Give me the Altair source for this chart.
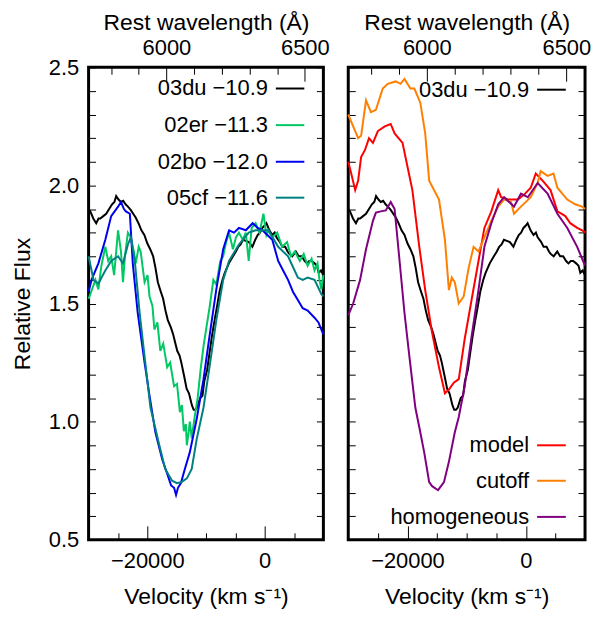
import altair as alt
import pandas as pd

# ---------------- data ----------------
V_DOMAIN = [-30000, 10000]
Y_DOMAIN = [0.5, 2.5]
LAM0 = 6355.0
C_KMS = 299792.458
W_DOMAIN = [LAM0 * (1 + V_DOMAIN[0] / C_KMS), LAM0 * (1 + V_DOMAIN[1] / C_KMS)]

Y_TICKS = [0.5, 0.6, 0.7, 0.8, 0.9, 1.0, 1.1, 1.2, 1.3, 1.4, 1.5, 1.6, 1.7, 1.8,
           1.9, 2.0, 2.1, 2.2, 2.3, 2.4, 2.5]
V_MAJOR = [-20000, 0]
V_MINOR = [-25000, -15000, -10000, -5000, 5000]
W_MAJOR = [6000, 6500]
W_MINOR = [5800, 5900, 6100, 6200, 6300, 6400]

# 03du -10.9 (black)
du_v = [-30000, -29700, -29200, -28700, -28300, -28000, -27500, -27000, -26500, -26000,
        -25600, -25300, -24900, -24500, -24100, -23700, -23300, -22800, -22400, -22000,
        -21500, -21000, -20500, -20000, -19500, -19000, -18600, -18200, -17700, -17300,
        -16900, -16500, -16000, -15600, -15200, -14900, -14500, -14200, -13700, -13300,
        -12900, -12700, -12400, -12100, -11800, -11500, -11000, -10600, -10300, -9800,
        -9400, -9000, -8600, -8100, -7700, -7200, -6800, -6100, -5400, -4900,
        -4500, -4100, -3700, -3200, -2700, -2400, -2100, -1600, -1200, -800,
        -400, 0, 300, 800, 1300, 1700, 2000, 2600, 3000, 3500,
        3900, 4200, 4700, 5300, 5800, 6300, 6800, 7200, 7600, 8000,
        8500, 8900, 9200, 9600, 10000]
du_f = [1.90, 1.89, 1.86, 1.84, 1.86, 1.86, 1.87, 1.88, 1.90, 1.92,
        1.93, 1.955, 1.94, 1.93, 1.935, 1.92, 1.91, 1.895, 1.88, 1.865,
        1.84, 1.81, 1.79, 1.755, 1.73, 1.70, 1.65, 1.59, 1.55, 1.52,
        1.47, 1.43, 1.40, 1.37, 1.33, 1.30, 1.28, 1.25, 1.19, 1.14,
        1.12, 1.10, 1.07, 1.05, 1.05, 1.06, 1.10, 1.11, 1.17, 1.22,
        1.29, 1.36, 1.42, 1.49, 1.55, 1.60, 1.63, 1.67, 1.70, 1.72,
        1.74, 1.75, 1.77, 1.765, 1.76, 1.75, 1.74, 1.77, 1.79, 1.80,
        1.82, 1.83, 1.84, 1.81, 1.79, 1.80, 1.78, 1.76, 1.74, 1.74,
        1.72, 1.71, 1.70, 1.72, 1.70, 1.70, 1.68, 1.67, 1.68, 1.68,
        1.67, 1.66, 1.63, 1.64, 1.62]

# 02er -11.3 (green, noisy)
er_v = [-30000, -28830, -28330, -27820, -27150, -26650, -26150, -25650, -24980, -24480,
        -24140, -23810, -23300, -22800, -22300, -21970, -21460, -21130, -20460, -19960,
        -19620, -19120, -18790, -18280, -17780, -17280, -16610, -16110, -15440, -14940,
        -14440, -14100, -13770, -13430, -13260, -12930, -12760, -12430, -11930, -11420,
        -10920, -10420, -9920, -9410, -8740, -8240, -7570, -7070, -6570, -6070,
        -5400, -4900, -4390, -3720, -3220, -2720, -2220, -1550, -880, -210,
        290, 630, 1300, 2130, 2970, 3810, 4480, 5150, 5980, 6650,
        7320, 7990, 8490, 9000, 9330, 9660, 10000]
er_f = [1.52, 1.60, 1.56, 1.66, 1.74, 1.68, 1.70, 1.62, 1.81, 1.72,
        1.59, 1.70, 1.80, 1.78, 1.72, 1.67, 1.74, 1.72, 1.59, 1.62,
        1.53, 1.49, 1.39, 1.42, 1.30, 1.33, 1.23, 1.25, 1.15, 1.16,
        1.04, 1.07, 0.96, 0.99, 0.90, 0.96, 1.00, 0.93, 1.02, 1.10,
        1.22, 1.32, 1.40, 1.48, 1.60, 1.58, 1.68, 1.70, 1.76, 1.80,
        1.73, 1.78, 1.80, 1.77, 1.80, 1.68, 1.82, 1.84, 1.80, 1.88,
        1.79, 1.81, 1.78, 1.80, 1.74, 1.76, 1.70, 1.72, 1.68, 1.71,
        1.66, 1.69, 1.64, 1.67, 1.60, 1.56, 1.62]

# 02bo -12.0 (blue)
bo_v = [-30000, -29500, -28330, -27150, -26150, -24980, -24480, -23980, -23640, -22970,
        -22470, -21630, -20460, -19620, -18620, -17450, -16610, -15940, -15440, -15100,
        -14770, -14270, -13600, -12760, -11590, -10420, -9410, -8240, -7070, -6070,
        -5230, -4390, -3220, -2050, -1210, -380, 460, 1300, 2300, 3140,
        3980, 4810, 5650, 6480, 7320, 8490, 9160, 9660, 10000]
bo_f = [1.55, 1.60, 1.67, 1.77, 1.87, 1.91, 1.93, 1.90, 1.89, 1.88,
        1.67, 1.46, 1.25, 1.11, 0.955, 0.84, 0.78, 0.73, 0.72, 0.69,
        0.72, 0.74, 0.80, 0.87, 1.01, 1.18, 1.36, 1.56, 1.73, 1.81,
        1.80, 1.82, 1.81, 1.84, 1.82, 1.81, 1.79, 1.77, 1.68, 1.64,
        1.60, 1.55, 1.515, 1.48, 1.47, 1.44, 1.42, 1.39, 1.37]

# 05cf -11.6 (teal)
cf_v = [-30000, -29160, -28330, -27150, -26150, -24980, -24140, -23300, -22800, -22130,
        -21300, -20460, -19460, -17950, -16950, -15780, -14940, -14100, -13260, -12430,
        -11590, -10420, -9410, -8240, -7070, -6070, -4390, -2720, -1550, -380,
        630, 2300, 3980, 5650, 6480, 7320, 8490, 9660, 10000]
cf_f = [1.70, 1.60, 1.585, 1.64, 1.68, 1.70, 1.67, 1.75, 1.78, 1.68,
        1.46, 1.275, 1.06, 0.90, 0.80, 0.75, 0.74, 0.745, 0.76, 0.80,
        0.925, 1.06, 1.23, 1.43, 1.60, 1.68, 1.75, 1.80, 1.81, 1.81,
        1.81, 1.74, 1.70, 1.61, 1.60, 1.61, 1.60, 1.54, 1.53]

# model (red)
mo_v = [-30000, -29500, -28830, -28330, -27830, -27170, -26500, -25830, -25000, -23830,
        -22830, -22170, -21500, -20830, -20000, -19170, -18000, -17000, -15830, -14670,
        -13670, -13000, -12170, -11330, -10330, -9170, -8000, -7000, -5830, -4670,
        -4170, -3000, -1330, -330, 830, 1670, 2830, 4170, 5330, 6670,
        7500, 8670, 9500, 10000]
mo_f = [2.10, 2.05, 1.98, 2.02, 2.12, 2.15, 2.20, 2.18, 2.23, 2.25,
        2.26, 2.22, 2.20, 2.18, 2.08, 1.98, 1.74, 1.557, 1.376, 1.23,
        1.12, 1.136, 1.165, 1.18, 1.35, 1.515, 1.68, 1.82, 1.89, 1.98,
        1.95, 1.94, 1.94, 1.96, 1.99, 2.05, 2.02, 1.98, 1.89, 1.87,
        1.84, 1.82, 1.81, 1.80]

# cutoff (orange)
cu_v = [-30000, -29170, -28330, -27830, -27000, -26170, -25330, -24170, -23330, -22000,
        -21170, -20500, -19500, -18830, -17830, -17000, -16330, -14670, -13670, -13000,
        -12500, -12000, -11330, -10500, -9670, -8830, -8000, -7000, -5830, -4670,
        -3670, -2500, -2000, -830, 830, 2000, 2500, 3670, 4670, 5330,
        7000, 8330, 9500, 10000]
cu_f = [2.30, 2.25, 2.20, 2.21, 2.36, 2.31, 2.32, 2.41, 2.43, 2.44,
        2.43, 2.45, 2.41, 2.41, 2.35, 2.22, 2.02, 1.94, 1.77, 1.557,
        1.61, 1.59, 1.50, 1.53, 1.65, 1.74, 1.72, 1.78, 1.85, 1.91,
        1.94, 1.93, 1.88, 1.91, 1.95, 2.01, 2.06, 2.04, 2.05, 1.99,
        1.94, 1.92, 1.91, 1.90]

# homogeneous (purple)
ho_v = [-30000, -29170, -28000, -27000, -25830, -25330, -24500, -23670, -22830, -22170,
        -21330, -20500, -19670, -18670, -17830, -17170, -16330, -15830, -14830, -13830,
        -13000, -12000, -11330, -10330, -9170, -8000, -7000, -5830, -4670, -3670,
        -2000, -830, 330, 2000, 3670, 5330, 7000, 8670, 9670, 10000]
ho_f = [1.45, 1.50, 1.60, 1.73, 1.85, 1.885, 1.89, 1.894, 1.93, 1.90,
        1.68, 1.46, 1.275, 1.06, 0.955, 0.87, 0.744, 0.727, 0.71, 0.744,
        0.83, 0.955, 1.02, 1.15, 1.36, 1.557, 1.74, 1.84, 1.92, 1.95,
        1.91, 1.965, 1.95, 2.01, 1.965, 1.88, 1.82, 1.74, 1.68, 1.66]

LEFT_SERIES = ["03du", "02er", "02bo", "05cf"]
LEFT_COLORS = ["#000000", "#00c864", "#0000f0", "#008080"]
LEFT_LABELS = ["03du \u221210.9", "02er \u221211.3", "02bo \u221212.0", "05cf \u221211.6"]
LEFT_LEG_Y = [2.41, 2.255, 2.10, 1.948]

RIGHT_SERIES = ["03du", "model", "cutoff", "homogeneous"]
RIGHT_COLORS = ["#000000", "#ff0000", "#ff8000", "#800080"]
RIGHT_LABELS = ["03du \u221210.9", "model", "cutoff", "homogeneous"]
RIGHT_LEG_Y = [2.405, 0.90, 0.75, 0.597]

LEG_TEXT_X = 550
LEG_LINE_X = [1900, 6750]


def long_df(names, vs, fs):
    rows = []
    for n, v, f in zip(names, vs, fs):
        for a, b in zip(v, f):
            rows.append({"series": n, "v": a, "flux": b})
    return pd.DataFrame(rows)


left_df = long_df(LEFT_SERIES, [du_v, er_v, bo_v, cf_v], [du_f, er_f, bo_f, cf_f])
right_df = long_df(RIGHT_SERIES, [du_v, mo_v, cu_v, ho_v], [du_f, mo_f, cu_f, ho_f])

FONT = "Liberation Sans"
LBL_FS = 22
TTL_FS = 23
LEG_FS = 22
LABEL_EXPR = "abs(datum.value*2 - round(datum.value*2)) < 0.001 ? format(datum.value, '.1f') : ''"


def make_panel(df, series, colors, labels, leg_y, show_y, width):
    vscale = alt.Scale(domain=V_DOMAIN, nice=False, zero=False)
    yscale = alt.Scale(domain=Y_DOMAIN, nice=False, zero=False)
    wscale = alt.Scale(domain=W_DOMAIN, nice=False, zero=False)
    cscale = alt.Scale(domain=series, range=colors)

    x_bottom = alt.Axis(orient="bottom", offset=-14, tickSize=14, values=V_MAJOR,
                        format="d", title="Velocity (km s\u207b\u00b9)", labelPadding=11,
                        titlePadding=14, labelFlush=False, domain=False, grid=False)
    x_bottom_minor = alt.Axis(orient="bottom", offset=-7, tickSize=7, values=V_MINOR,
                              labels=False, title=None, domain=False, grid=False)
    x_top = alt.Axis(orient="top", offset=-14, tickSize=14, values=W_MAJOR, format="d",
                     title="Rest wavelength (\u00c5)", labelPadding=8, titlePadding=2,
                     labelFlush=False, domain=False, grid=False)
    x_top_minor = alt.Axis(orient="top", offset=-7, tickSize=7, values=W_MINOR,
                           labels=False, title=None, domain=False, grid=False)
    if show_y:
        y_left = alt.Axis(orient="left", offset=-7, tickSize=7, values=Y_TICKS,
                          labelExpr=LABEL_EXPR, labelPadding=10, labelFlush=False,
                          labelOverlap=False, title="Relative Flux", titlePadding=14,
                          domain=False, grid=False)
    else:
        y_left = alt.Axis(orient="left", offset=-7, tickSize=7, values=Y_TICKS,
                          labels=False, title=None, domain=False, grid=False)
    y_right = alt.Axis(orient="right", offset=-7, tickSize=7, values=Y_TICKS,
                       labels=False, title=None, domain=False, grid=False)

    lines = alt.Chart(df).mark_line(strokeWidth=2).encode(
        x=alt.X("v:Q", scale=vscale, axis=x_bottom),
        y=alt.Y("flux:Q", scale=yscale, axis=y_left),
        color=alt.Color("series:N", scale=cscale, legend=None),
    )

    anchor = pd.DataFrame({"v": [V_DOMAIN[0]], "flux": [Y_DOMAIN[0]],
                           "w": [W_DOMAIN[0]]})
    minor = alt.Chart(anchor).mark_point(opacity=0).encode(
        x=alt.X("v:Q", scale=vscale, axis=x_bottom_minor),
        y=alt.Y("flux:Q", scale=yscale, axis=y_right),
    )
    top_major = alt.Chart(anchor).mark_point(opacity=0).encode(
        x=alt.X("w:Q", scale=wscale, axis=x_top),
        y=alt.Y("flux:Q", scale=yscale, axis=None),
    )
    top_minor = alt.Chart(anchor).mark_point(opacity=0).encode(
        x=alt.X("w:Q", scale=wscale, axis=x_top_minor),
        y=alt.Y("flux:Q", scale=yscale, axis=None),
    )

    leg = pd.DataFrame({"series": series, "label": labels, "ly": leg_y,
                        "tx": [LEG_TEXT_X] * len(series),
                        "x1": [LEG_LINE_X[0]] * len(series),
                        "x2": [LEG_LINE_X[1]] * len(series)})
    leg_text = alt.Chart(leg).mark_text(align="right", baseline="middle", font=FONT,
                                        fontSize=LEG_FS, color="black").encode(
        x=alt.X("tx:Q", scale=vscale, axis=None),
        y=alt.Y("ly:Q", scale=yscale, axis=None),
        text="label:N",
    )
    leg_line = alt.Chart(leg).mark_rule(strokeWidth=2).encode(
        x=alt.X("x1:Q", scale=vscale, axis=None),
        x2="x2:Q",
        y=alt.Y("ly:Q", scale=yscale, axis=None),
        color=alt.Color("series:N", scale=cscale, legend=None),
    )

    return alt.layer(lines, minor, top_major, top_minor, leg_text, leg_line).resolve_scale(
        x="independent", color="shared"
    ).resolve_axis(x="independent", y="independent").properties(width=width, height=475)


left = make_panel(left_df, LEFT_SERIES, LEFT_COLORS, LEFT_LABELS, LEFT_LEG_Y, True, 236)
right = make_panel(right_df, RIGHT_SERIES, RIGHT_COLORS, RIGHT_LABELS, RIGHT_LEG_Y, False, 238)

chart = alt.hconcat(left, right, spacing=25, bounds="flush").resolve_scale(
    color="independent"
).properties(
    padding={"left": 1, "top": 0, "right": 0, "bottom": 0}
).configure_axis(
    labelFont=FONT, titleFont=FONT, labelFontSize=LBL_FS, titleFontSize=TTL_FS,
    titleFontWeight="normal", labelColor="black", titleColor="black",
    tickColor="black", tickWidth=1
).configure_view(
    stroke="black", strokeWidth=3
)

chart.save("out.html", embed_options={"renderer": "svg", "actions": False})
